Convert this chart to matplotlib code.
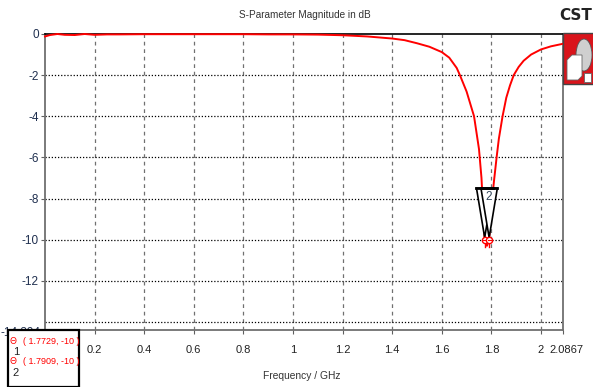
import matplotlib
matplotlib.use("Agg")
import matplotlib.pyplot as plt
from matplotlib.patches import Rectangle, Polygon, Ellipse
from matplotlib.transforms import ScaledTranslation
import numpy as np

NARROW = ['Liberation Sans Narrow', 'Liberation Sans', 'DejaVu Sans']
plt.rcParams['font.family'] = NARROW
plt.rcParams['axes.unicode_minus'] = False

# S11 egrisi
freq = [0.0, 0.02, 0.05, 0.08, 0.12, 0.16, 0.2, 0.25, 0.3, 0.4, 0.5, 0.6, 0.7,
        0.8, 0.9, 1.0, 1.1, 1.2, 1.3, 1.4, 1.45, 1.5, 1.55, 1.6, 1.63, 1.66,
        1.673, 1.70, 1.72, 1.73, 1.74, 1.75, 1.76, 1.7729, 1.782, 1.7909,
        1.80, 1.81, 1.821, 1.83, 1.845, 1.86, 1.875, 1.89, 1.91, 1.93, 1.96,
        2.0, 2.04, 2.0867]
s11 = [-0.12, -0.05, 0.0, -0.04, -0.05, 0.0, -0.04, -0.02, -0.02, -0.01,
       -0.01, -0.01, -0.01, -0.01, -0.02, -0.02, -0.03, -0.06, -0.12, -0.22,
       -0.30, -0.45, -0.62, -0.88, -1.15, -1.65, -2.0, -2.8, -3.6, -4.0,
       -4.8, -5.6, -7.0, -10.0, -10.3, -10.0, -8.4, -7.2, -6.0, -5.1, -4.0,
       -3.1, -2.5, -2.0, -1.6, -1.3, -1.0, -0.75, -0.6, -0.48]

marker_f = [1.7729, 1.7909]
marker_db = [-10, -10]
marker_names = ['1', '2']

x_ticks = [0, 0.2, 0.4, 0.6, 0.8, 1, 1.2, 1.4, 1.6, 1.8, 2, 2.0867]
x_labels = ['0', '0.2', '0.4', '0.6', '0.8', '1', '1.2', '1.4', '1.6', '1.8', '2', '2.0867']
y_grid = [0, -2, -4, -6, -8, -10, -12, -14]
y_ticks = [0, -2, -4, -6, -8, -10, -12]
y_labels = ['0', '-2', '-4', '-6', '-8', '-10', '-12']
y_min = -14.394

W, H = 593, 387
fig = plt.figure(figsize=(W / 100, H / 100), dpi=100)
ax = fig.add_axes([45 / W, 1 - 330 / H, (562.5 - 45) / W, (330 - 34) / H])

ax.set_xlim(0, 2.0867)
ax.set_ylim(y_min, 0)

for g in x_ticks[1:-1]:
    ax.axvline(g, color='#707070', lw=0.9, ls=(0, (3, 3)), zorder=1)
for g in y_grid[1:]:
    ax.axhline(g, color='black', lw=0.9, ls=(0, (1, 1.5)), zorder=1)

ax.plot(freq, s11, color='red', lw=1.4, zorder=3, clip_on=False)

# marker ucgenleri (beyaz dolgulu, egriyi ortuyor)
hw = 0.033
for mf, md, nm in zip(marker_f, marker_db, marker_names):
    tri = Polygon([(mf - hw, -7.5), (mf + hw, -7.5), (mf, md + 0.1)], closed=True,
                  facecolor='white', edgecolor='black', lw=1.2, zorder=4)
    ax.add_patch(tri)
    ax.plot([mf - hw, mf + hw], [-7.5, -7.5], color='black', lw=2.0, zorder=5)
ax.text(marker_f[1], -7.95, marker_names[1], ha='center', va='center',
        fontsize=8.5, color='#33475b', zorder=6)
for mf, md in zip(marker_f, marker_db):
    ax.plot([mf, mf], [md, md - 0.35], color='red', lw=1.0, zorder=6)
    ax.plot(mf, md, marker='o', ms=4.5, mfc='white', mec='red', mew=1.0, zorder=7)
    ax.plot([mf - 0.006, mf + 0.006], [md, md], color='red', lw=0.8, zorder=8)

ax.set_xticks(x_ticks)
ax.set_xticklabels(x_labels)
ax.set_yticks(y_ticks)
ax.set_yticklabels(y_labels)
ax.tick_params(axis='x', length=3, pad=8, labelsize=8, color='#606060', labelcolor='#222222')
ax.tick_params(axis='y', length=3, pad=1.5, labelsize=8.5, color='#606060', labelcolor='#1f2f4f')
# son etiketi biraz saga kaydir (2 ile cakismasin)
last = ax.get_xticklabels()[-1]
last.set_transform(last.get_transform() + ScaledTranslation(4 / 100, 0, fig.dpi_scale_trans))

# alt sinir etiketi, kutunun arkasinda kaliyor
ax.text(-0.02, y_min + 0.15, f'{y_min}', transform=ax.transData, ha='right', va='top',
        fontsize=8.5, color='#1f2f4f', clip_on=False)

for side in ['left', 'bottom', 'right']:
    ax.spines[side].set_color('#707070')
    ax.spines[side].set_linewidth(1.3)
ax.spines['top'].set_color('black')
ax.spines['top'].set_linewidth(1.2)

fig.text(305 / W, 1 - 15 / H, 'S-Parameter Magnitude in dB', ha='center', va='center',
         fontsize=7.2, color='#333333')
fig.text(302 / W, 1 - 376 / H, 'Frequency / GHz', ha='center', va='center',
         fontsize=7.4, color='#333333')

# marker kutusu (sol alt)
fig.patches.append(Rectangle((8 / W, 0), 71 / W, 57 / H, transform=fig.transFigure,
                             facecolor='white', edgecolor='black', lw=1.6, zorder=10))
rows = [(342, 352), (362, 373)]
for (yy, ys), mf, md, nm in zip(rows, marker_f, marker_db, marker_names):
    fig.text(13.5 / W, 1 - yy / H, '\u0398', ha='center', va='center', fontsize=6.5,
             color='red', zorder=11, family='DejaVu Sans')
    fig.text(16 / W, 1 - ys / H, nm, ha='center', va='center', fontsize=8,
             color='#222222', zorder=11)
    fig.text(23 / W, 1 - yy / H, f'( {mf}, {md} )', ha='left', va='center',
             fontsize=6.5, color='red', zorder=11)

# CST logosu
fig.text(576 / W, 1 - 16 / H, 'CST', ha='center', va='center', fontsize=11,
         fontweight='bold', color='#222222', family='DejaVu Sans')
fig.patches.append(Rectangle((563 / W, 1 - 84 / H), 32 / W, 51 / H, transform=fig.transFigure,
                             facecolor='#d9141b', edgecolor='#444444', lw=1.0, zorder=10))
fig.patches.append(Ellipse((584 / W, 1 - 55 / H), 16 / W, 32 / H, transform=fig.transFigure,
                           facecolor='#cfcfcf', edgecolor='#555555', lw=0.6, zorder=11))
fig.patches.append(Polygon([(567 / W, 1 - 80 / H), (567 / W, 1 - 60 / H), (572 / W, 1 - 55 / H),
                            (582 / W, 1 - 55 / H), (582 / W, 1 - 76 / H), (578 / W, 1 - 80 / H)],
                           closed=True, transform=fig.transFigure, facecolor='white',
                           edgecolor='#666666', lw=0.6, zorder=12))
fig.patches.append(Rectangle((584 / W, 1 - 82 / H), 7 / W, 9 / H, transform=fig.transFigure,
                             facecolor='white', edgecolor='#666666', lw=0.6, zorder=12))

fig.savefig('out.png', dpi=100)
